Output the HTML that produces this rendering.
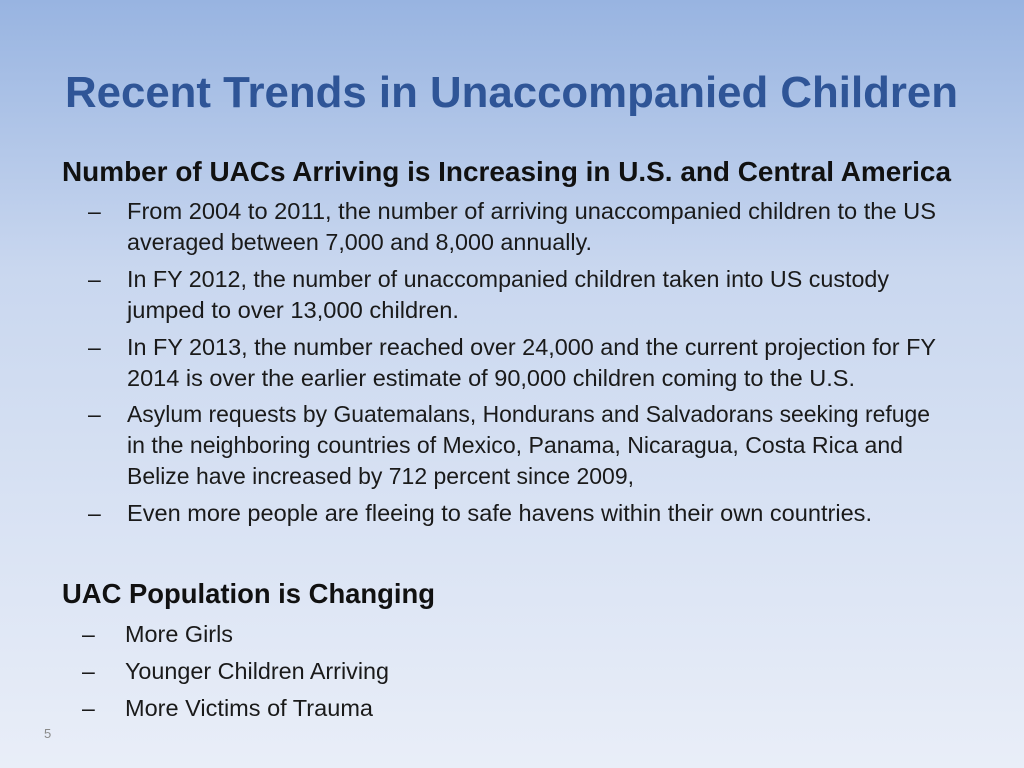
<!DOCTYPE html>
<html><head><meta charset="utf-8"><style>
html,body{margin:0;padding:0;width:1024px;height:768px;overflow:hidden}
svg{display:block}
.t{font-family:"Liberation Sans",sans-serif}
</style></head><body>
<svg width="1024" height="768" viewBox="0 0 1024 768">
<defs><linearGradient id="bg" x1="0" y1="0" x2="0" y2="1">
<stop offset="0" stop-color="#98b4e1"/><stop offset="0.35" stop-color="#c9d7ef"/><stop offset="1" stop-color="#e9eef8"/></linearGradient></defs>
<rect width="1024" height="768" fill="url(#bg)"/>
<text class="t" x="65" y="107" font-size="44" font-weight="bold" fill="#2f5597" textLength="893" lengthAdjust="spacingAndGlyphs">Recent Trends in Unaccompanied Children</text>
<text class="t" x="62" y="181" font-size="28" font-weight="bold" fill="#111" textLength="889" lengthAdjust="spacingAndGlyphs">Number of UACs Arriving is Increasing in U.S. and Central America</text>
<g fill="#1a1a1a" font-size="23" class="t">
<text x="88" y="219">–</text>
<text x="127" y="219" textLength="809" lengthAdjust="spacingAndGlyphs">From 2004 to 2011, the number of arriving unaccompanied children to the US</text>
<text x="127" y="250" textLength="465" lengthAdjust="spacingAndGlyphs">averaged between 7,000 and 8,000 annually.</text>
<text x="88" y="287">–</text>
<text x="127" y="287" textLength="762" lengthAdjust="spacingAndGlyphs">In FY 2012, the number of unaccompanied children taken into US custody</text>
<text x="127" y="318" textLength="332" lengthAdjust="spacingAndGlyphs">jumped to over 13,000 children.</text>
<text x="88" y="355">–</text>
<text x="127" y="355" textLength="809" lengthAdjust="spacingAndGlyphs">In FY 2013, the number reached over 24,000 and the current projection for FY</text>
<text x="127" y="386" textLength="728" lengthAdjust="spacingAndGlyphs">2014 is over the earlier estimate of 90,000 children coming to the U.S.</text>
<text x="88" y="422">–</text>
<text x="127" y="422" textLength="803" lengthAdjust="spacingAndGlyphs">Asylum requests by Guatemalans, Hondurans and Salvadorans seeking refuge</text>
<text x="127" y="453" textLength="776" lengthAdjust="spacingAndGlyphs">in the neighboring countries of Mexico, Panama, Nicaragua, Costa Rica and</text>
<text x="127" y="484" textLength="507" lengthAdjust="spacingAndGlyphs">Belize have increased by 712 percent since 2009,</text>
<text x="88" y="521">–</text>
<text x="127" y="521" textLength="745" lengthAdjust="spacingAndGlyphs">Even more people are fleeing to safe havens within their own countries.</text>
</g>
<text class="t" x="62" y="603" font-size="28" font-weight="bold" fill="#111" textLength="373" lengthAdjust="spacingAndGlyphs">UAC Population is Changing</text>
<g fill="#1a1a1a" font-size="23" class="t">
<text x="82" y="642">–</text>
<text x="125" y="642" textLength="108" lengthAdjust="spacingAndGlyphs">More Girls</text>
<text x="82" y="679">–</text>
<text x="125" y="679" textLength="264" lengthAdjust="spacingAndGlyphs">Younger Children Arriving</text>
<text x="82" y="716">–</text>
<text x="125" y="716" textLength="248" lengthAdjust="spacingAndGlyphs">More Victims of Trauma</text>
</g>
<text class="t" x="44" y="738" font-size="13" fill="#8a8a8a">5</text>
</svg>
</body></html>
